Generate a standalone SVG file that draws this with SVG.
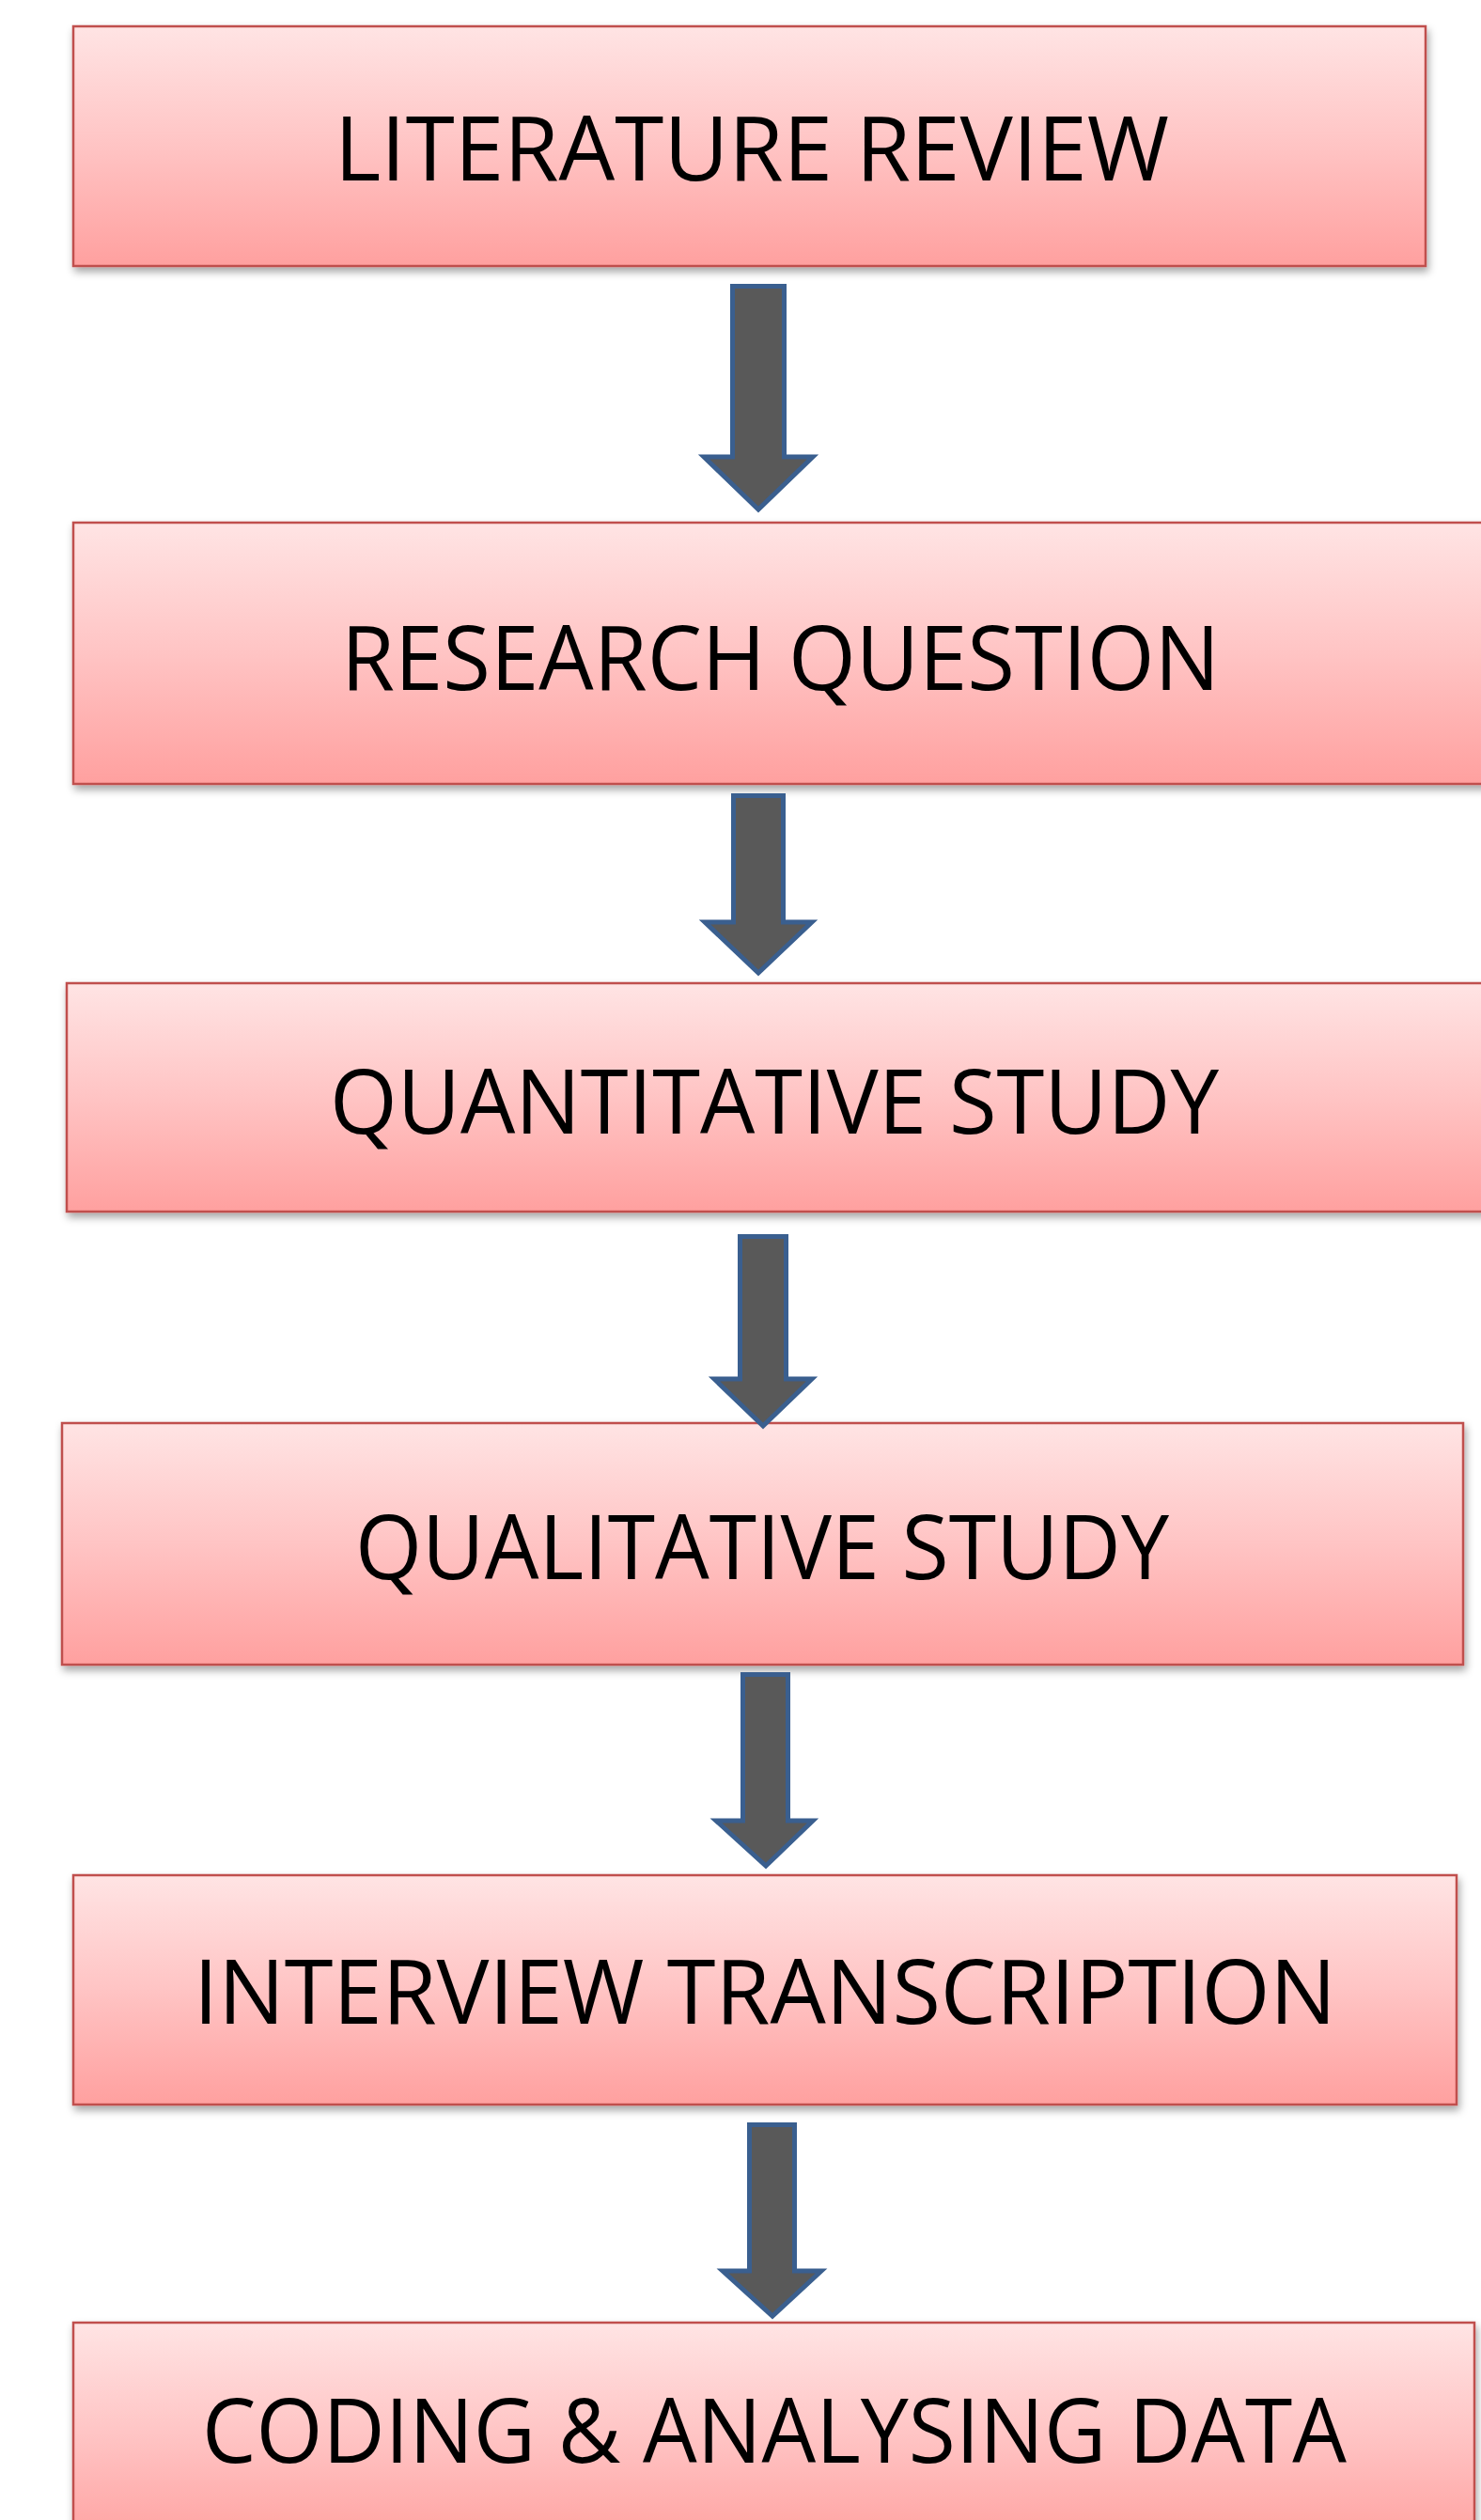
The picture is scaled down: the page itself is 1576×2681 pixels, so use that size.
<svg xmlns="http://www.w3.org/2000/svg" width="1576" height="2681" viewBox="0 0 1576 2681">
  <defs>
    <linearGradient id="boxFill" x1="0" y1="0" x2="0" y2="1">
      <stop offset="0" stop-color="#FFE4E4"/>
      <stop offset="0.5" stop-color="#FFC4C4"/>
      <stop offset="1" stop-color="#FFA09F"/>
    </linearGradient>
    <filter id="shadow" x="-5%" y="-10%" width="110%" height="130%">
      <feDropShadow dx="2" dy="5" stdDeviation="4" flood-color="#000" flood-opacity="0.35"/>
    </filter>
  </defs>
  <style>
    .box { fill: url(#boxFill); stroke: #C0504D; stroke-width: 2.5; filter: url(#shadow); }
    .label { font-family: "Open Sans", "Noto Sans", "Liberation Sans", sans-serif; font-size: 96px; fill: #000; }
    .arrow { fill: #595959; stroke: #3A5F8F; stroke-width: 5; stroke-linejoin: miter; }
  </style>
  <rect width="1576" height="2681" fill="#FFFFFF"/>

  <g id="literature-review">
    <rect class="box" x="78" y="28" width="1439" height="255"/>
    <text class="label" x="356" y="192" textLength="888" lengthAdjust="spacingAndGlyphs">LITERATURE REVIEW</text>
  </g>

  <g id="research-question">
    <rect class="box" x="78" y="556" width="1520" height="278"/>
    <text class="label" x="363" y="734" textLength="935" lengthAdjust="spacingAndGlyphs">RESEARCH QUESTION</text>
  </g>

  <g id="quantitative-study">
    <rect class="box" x="71" y="1046" width="1527" height="243"/>
    <text class="label" x="351" y="1206" textLength="946" lengthAdjust="spacingAndGlyphs">QUANTITATIVE STUDY</text>
  </g>

  <g id="qualitative-study">
    <rect class="box" x="66" y="1514" width="1491" height="257"/>
    <text class="label" x="378" y="1680" textLength="866" lengthAdjust="spacingAndGlyphs">QUALITATIVE STUDY</text>
  </g>

  <g id="interview-transcription">
    <rect class="box" x="78" y="1995" width="1472" height="244"/>
    <text class="label" x="206" y="2153" textLength="1216" lengthAdjust="spacingAndGlyphs">INTERVIEW TRANSCRIPTION</text>
  </g>

  <g id="coding-analysing-data">
    <rect class="box" x="78" y="2471" width="1491" height="240"/>
    <text class="label" x="215" y="2620" textLength="1218" lengthAdjust="spacingAndGlyphs">CODING &amp; ANALYSING DATA</text>
  </g>

  <g id="connectors">
    <polygon class="arrow" points="779.5,304.5 834.5,304.5 834.5,486 865,486 807,542 749,486 779.5,486"/>
    <polygon class="arrow" points="780.5,846.5 833.5,846.5 833.5,981 864,981 807,1035 750,981 780.5,981"/>
    <polygon class="arrow" points="787.5,1315.5 836.5,1315.5 836.5,1467 864,1467 812,1517 760,1467 787.5,1467"/>
    <polygon class="arrow" points="790.5,1781.5 838.5,1781.5 838.5,1937 865,1937 815,1985 762,1937 790.5,1937"/>
    <polygon class="arrow" points="797.5,2260.5 845.5,2260.5 845.5,2416 874,2416 822,2464 769,2416 797.5,2416"/>
  </g>
</svg>
